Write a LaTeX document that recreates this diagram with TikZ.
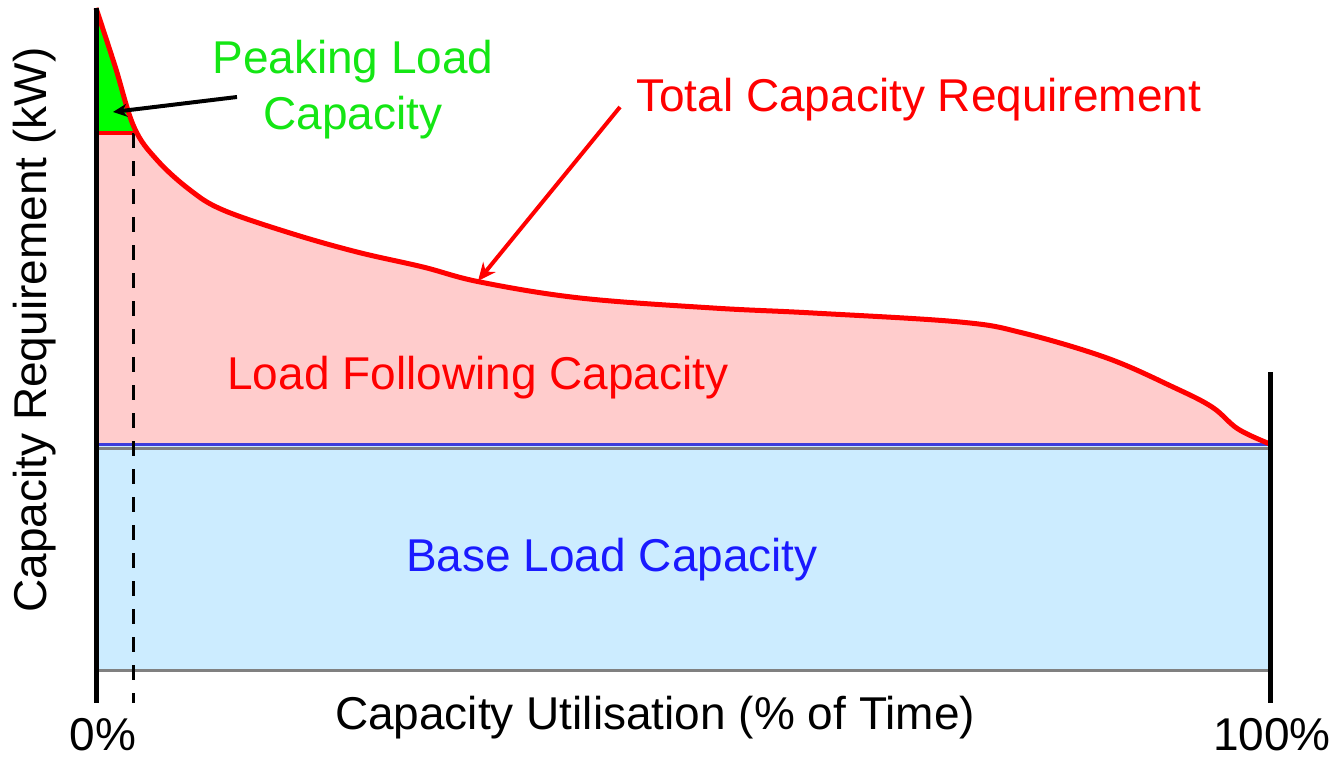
\documentclass[tikz,border=0pt]{standalone}
\usepackage{fontspec}
\setmainfont{Liberation Sans}
\usetikzlibrary{arrows.meta}
\definecolor{mypink}{RGB}{255,204,204}
\definecolor{myblue}{RGB}{204,236,255}
\definecolor{mygreen}{RGB}{0,255,0}
\definecolor{mytextgreen}{RGB}{20,230,20}
\definecolor{myred}{RGB}{255,0,0}
\definecolor{myline}{RGB}{60,60,220}
\definecolor{mytextblue}{RGB}{26,26,255}
\begin{document}
\begin{tikzpicture}[%
                x=1pt, y=-1pt,
                mylabel/.style={font=\fontsize{46}{56}\selectfont, inner sep=0pt},
                myaxis/.style={line width=5pt, color=black},
                mygrey/.style={line width=3pt, color=black!50}
        ]
            \useasboundingbox (0,0) rectangle (1332,760);
            \def\mycurve{(96,8) (115,66) (134,127) (157,160) (190,190)
                (223,210) (290,233) (357,252) (423,267) (480,282) (580,298) (713,308)
                (813,313) (960,322) (1023,333) (1107,358) (1173,387)
                (1212,407) (1238,429) (1270,444)}
            % areas
            \fill [myblue] (96,446) rectangle (1270,670);
            \fill [mypink] (96,444) -- plot [smooth, tension=0.6] coordinates {\mycurve} -- cycle;
            \begin{scope}
                \clip (96,0) rectangle (135,133);
                \fill [mygreen] (96,133) -- plot [smooth, tension=0.6] coordinates {\mycurve} -- (1270,133) -- cycle;
            \end{scope}
            % lines
            \draw [mygrey] (96,448) -- (1270,448);
            \draw [mygrey] (96,670) -- (1270,670);
            \draw [line width=3pt, myline] (96,444) -- (1270,444);
            \draw [line width=4pt, myred] (96,133) -- (134,133);
            \draw [line width=3pt, dash pattern=on 15pt off 13pt] (133,133) -- (133,703);
            \draw [line width=5pt, myred, line join=round] plot [smooth, tension=0.6] coordinates {\mycurve};
            \draw [myaxis] (96,8) -- (96,703);
            \draw [myaxis] (1270,372) -- (1270,703);
            % texts
            \node [mylabel, text=mytextgreen, align=center] (peaklabel) at (353,90) {Peaking Load\\Capacity};
            \node [mylabel, text=myred, anchor=west] (totallabel) at (636,100) {Total Capacity Requirement};
            \node [mylabel, text=myred] (followlabel) at (478,378) {Load Following Capacity};
            \node [mylabel, text=mytextblue] (baselabel) at (612,560) {Base Load Capacity};
            \node [mylabel] (xlabel) at (655,718) {Capacity Utilisation (\% of Time)};
            \node [mylabel, rotate=90] (ylabel) at (35,330) {Capacity Requirement (kW)};
            \node [mylabel] (zerolabel) at (103,735) {0\%};
            \node [mylabel] (fulllabel) at (1272,735) {100\%};
            % arrows
            \coordinate (peakfrom) at (237,97);
            \coordinate (peaktip) at (113,112);
            \coordinate (totalfrom) at (620,107);
            \coordinate (totaltip) at (478,281);
            \draw [line width=4pt, -{Stealth[length=14pt, width=13pt]}] (peakfrom) -- (peaktip);
            \draw [line width=4pt, myred, -{Stealth[length=18pt, width=16pt]}] (totalfrom) -- (totaltip);
        \end{tikzpicture}
\end{document}
